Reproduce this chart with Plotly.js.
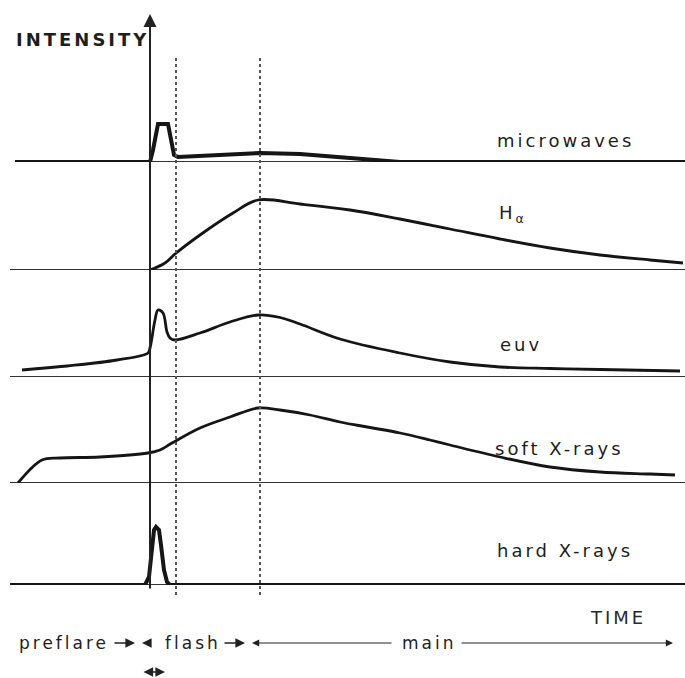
<!DOCTYPE html>
<html>
<head>
<meta charset="utf-8">
<script src="https://cdn.plot.ly/plotly-3.0.1.min.js"></script>
<style>
  html, body { margin: 0; padding: 0; background: #ffffff; }
  #chart { width: 685px; height: 678px; }
  .annotation-text { letter-spacing: 3px; }
</style>
</head>
<body>
<div id="chart"></div>
<script>
// ---- Data (time in arbitrary units, flare onset at t = 0; intensity in arbitrary units) ----
const seriesNames = ["microwaves", "H<sub>α</sub>", "euv", "soft X-rays", "hard X-rays"];

const microwavesT = [-13.5, 0, 0.3, 0.7, 0.8, 1.8, 2.1, 2.4, 2.8, 5, 8, 11, 15, 19, 23, 25, 53.5];
const microwavesV = [0, 0, 12, 37, 38, 38, 22, 7, 5, 6, 8, 9, 8, 5, 1, 0, 0];

const halphaT = [0, 1.5, 2.5, 5, 8.3, 10.8, 15, 20, 25, 30, 35, 40, 45, 50, 53.3];
const halphaV = [0, 7, 16, 35, 57, 70, 66, 60, 51, 41, 31, 22, 15, 10, 7];

const euvT = [-12.8, -8.3, -3.3, -0.2, 0, 0.5, 0.8, 1.3, 1.7, 2, 2.5, 5, 8, 10.8, 13, 15, 19, 25, 30, 35, 40, 45, 53];
const euvV = [7, 11, 17, 24, 29, 57, 67, 64, 45, 39, 37, 44, 55, 62, 59.5, 53, 38, 24, 15, 10, 8.5, 7.5, 6];

const softT = [-13.2, -10.8, -9, -5, -0.2, 1, 2.2, 5, 8, 10.8, 13, 16, 19, 22, 25, 28, 30, 35, 40, 45, 50, 52.5];
const softV = [0, 23, 25, 26, 30, 33, 40, 55, 66, 75, 73, 68, 61, 55.5, 50, 43, 38, 26, 16, 11, 9, 8];

const hardT = [-14, -0.5, -0.1, 0.2, 0.4, 0.6, 0.9, 1.1, 1.4, 1.7, 2, 53.5];
const hardV = [0, 0, 8, 35, 55, 58, 55, 40, 15, 3, 0, 0];

// phase boundaries (time)
const phaseBoundaries = [2.6, 11];
const phaseLabels = ["preflare", "flash", "main"];
const axisLabels = { y: "INTENSITY", x: "TIME" };

// ---- Layout helpers (pixel geometry of the figure) ----
const W = 685, H = 678;
const baselinesPx = [162, 270, 377, 483, 585];
const panelHeightPx = 100;
const py = p => 1 - p / H;          // pixel row -> paper y
const INK = "#151515";
const FONT = "DejaVu Sans, sans-serif";

const seriesT = [microwavesT, halphaT, euvT, softT, hardT];
const seriesV = [microwavesV, halphaV, euvV, softV, hardV];
const widths = [4, 2.8, 2.8, 2.8, 4];
const shapesLine = ["linear", "spline", "spline", "spline", "linear"];

const traces = seriesT.map((t, i) => ({
  x: t, y: seriesV[i], type: "scatter", mode: "lines",
  xaxis: "x", yaxis: i === 0 ? "y" : "y" + (i + 1),
  line: { color: INK, width: widths[i], shape: shapesLine[i], smoothing: 1.0 },
  hoverinfo: "skip"
}));

const layout = {
  width: W, height: H,
  margin: { l: 0, r: 0, t: 0, b: 0 },
  paper_bgcolor: "#ffffff", plot_bgcolor: "rgba(0,0,0,0)",
  showlegend: false,
  xaxis: { range: [-15, 53.5], visible: false, fixedrange: true },
  shapes: [], annotations: []
};

baselinesPx.forEach((b, i) => {
  const key = i === 0 ? "yaxis" : "yaxis" + (i + 1);
  layout[key] = {
    domain: [py(b), py(b - panelHeightPx)],
    range: [0, 100], visible: false, fixedrange: true
  };
  layout.shapes.push({
    type: "line", xref: "x", yref: i === 0 ? "y" : "y" + (i + 1),
    x0: i === 0 ? -13.5 : -14, x1: 53.5, y0: 0, y1: 0,
    line: { color: "#333", width: 1.8 }, layer: "below"
  });
});

// dotted phase boundaries
phaseBoundaries.forEach((tb, i) => {
  layout.shapes.push({
    type: "line", xref: "x", yref: "paper",
    x0: tb, x1: tb, y0: py(595), y1: py(i === 0 ? 58 : 55),
    line: { color: "#555", width: 2, dash: "dot" }
  });
});

// vertical intensity axis (arrow)
layout.annotations.push({
  xref: "x", yref: "paper", x: 0, y: py(14), text: "",
  showarrow: true, ax: 0, ay: 576, axref: "pixel", ayref: "pixel",
  arrowhead: 2, arrowsize: 1.3, arrowwidth: 2, arrowcolor: "#222", standoff: 0
});

// series labels
const labelT = [34.5, 34.7, 34.8, 34.3, 34.5];
const labelV = [21, 56, 32, 35, 35];
seriesNames.forEach((name, i) => {
  layout.annotations.push({
    xref: "x", yref: i === 0 ? "y" : "y" + (i + 1),
    x: labelT[i], y: labelV[i], text: name, showarrow: false,
    xanchor: "left", yanchor: "middle",
    font: { family: FONT, size: 18, color: "#1e1e1e" }
  });
});

// axis words
layout.annotations.push({
  xref: "x", yref: "paper", x: -13.6, y: py(40), text: "<b>" + axisLabels.y + "</b>",
  showarrow: false, xanchor: "left", yanchor: "middle",
  font: { family: FONT, size: 18, color: "#1e1e1e" }
});
layout.annotations.push({
  xref: "x", yref: "paper", x: 43.8, y: py(617), text: axisLabels.x,
  showarrow: false, xanchor: "left", yanchor: "middle",
  font: { family: FONT, size: 18, color: "#2a2a2a" }
});

// phase labels row
const rowY = py(643);
const phaseLabelT = [-13.3, 1.3, 25];
phaseLabels.forEach((p, i) => {
  layout.annotations.push({
    xref: "x", yref: "paper", x: phaseLabelT[i], y: rowY, text: p,
    showarrow: false, xanchor: "left", yanchor: "middle",
    font: { family: FONT, size: 17, color: "#1e1e1e" }
  });
});
// phase arrows: [tail, head]
const phaseArrows = [[-3.7, -1.5], [0.2, -0.8], [7.3, 9.5], [24.3, 10.2], [31, 52.3]];
phaseArrows.forEach(([tail, head], i) => {
  layout.annotations.push({
    xref: "x", yref: "paper", x: head, y: rowY, text: "",
    showarrow: true, axref: "x", ax: tail, ayref: "pixel", ay: 0,
    arrowhead: 2, arrowsize: 1.2, arrowwidth: (i >= 3 ? 1.2 : 1.6),
    arrowcolor: "#222", standoff: 0, startstandoff: 0
  });
});
// small double arrow under onset
layout.annotations.push({
  xref: "x", yref: "paper", x: 1.5, y: py(672), text: "",
  showarrow: true, axref: "x", ax: -0.8, ayref: "pixel", ay: 0,
  arrowside: "end+start", arrowhead: 2, arrowsize: 1.2, arrowwidth: 1.6,
  arrowcolor: "#222", standoff: 0, startstandoff: 0
});

Plotly.newPlot("chart", traces, layout, { displayModeBar: false, staticPlot: true });
</script>
</body>
</html>
